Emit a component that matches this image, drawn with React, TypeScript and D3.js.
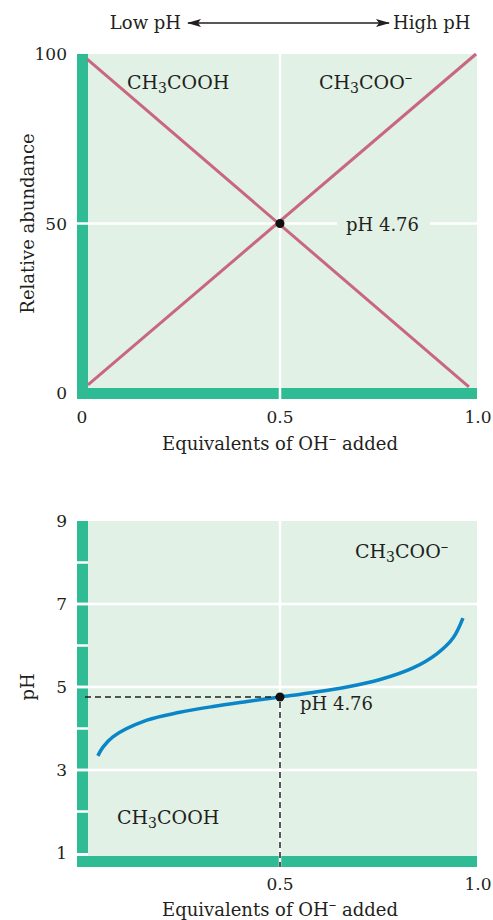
import React, {useEffect, useRef} from 'react';
import * as d3 from 'd3';

// top panel: relative abundance of acid / conjugate base
const abundanceTicks = [0, 50, 100];
const acidLine: [number, number][] = [[0.013, 98.5], [0.977, 1.8]];
const baseLine: [number, number][] = [[0.015, 2.4], [0.995, 100]];

// bottom panel: titration curve
const phTicks = [1, 3, 5, 7, 9];
const phGrid = [3, 5, 7];
const curveEquiv = [0.040, 0.053, 0.078, 0.164, 0.247, 0.331, 0.417, 0.5, 0.583, 0.669, 0.753, 0.836, 0.896, 0.937, 0.962];
const curvePH = [3.34, 3.55, 3.80, 4.20, 4.39, 4.53, 4.65, 4.76, 4.87, 5.00, 5.18, 5.46, 5.80, 6.18, 6.66];

const pKa = 4.76;
const xTicksTop = ['0', '0.5', '1.0'];
const xTicksBottom = ['0.5', '1.0'];

const FONT = 'DejaVu Serif';
const INK = '#231f20';
const PLOT_BG = '#e1f1e6';
const BAR = '#2fbb94';
const PINK = '#c8677f';
const BLUE = '#0a86c8';

const App = () => {
    const ref = useRef<SVGSVGElement>(null);

    useEffect(() => {
        const svg = d3.select(ref.current);
        svg.selectAll('*').remove();

        const x = d3.scaleLinear().domain([0, 1]).range([82, 478]);
        const left = 77, right = 477;

        const text = (t: string, tx: number, ty: number, anchor = 'start', size = 17) =>
            svg.append('text')
                .attr('x', tx).attr('y', ty)
                .attr('text-anchor', anchor)
                .attr('font-family', FONT)
                .attr('font-size', size)
                .attr('fill', INK)
                .text(t);

        // chemical label with subscript 3 and optional superscript minus
        const chem = (tx: number, ty: number, ion: boolean) => {
            const t = svg.append('text')
                .attr('x', tx).attr('y', ty)
                .attr('font-family', FONT)
                .attr('font-size', 19)
                .attr('fill', INK);
            t.append('tspan').text('CH');
            t.append('tspan').attr('font-size', 14).attr('dy', 4).text('3');
            t.append('tspan').attr('dy', -4).text(ion ? 'COO' : 'COOH');
            if (ion) t.append('tspan').attr('font-size', 15).attr('dy', -7).text('–');
        };

        const xTitle = (ty: number) => {
            const t = svg.append('text')
                .attr('x', x(0.5)).attr('y', ty)
                .attr('text-anchor', 'middle')
                .attr('font-family', FONT)
                .attr('font-size', 18)
                .attr('fill', INK);
            t.append('tspan').text('Equivalents of OH');
            t.append('tspan').attr('font-size', 15).attr('dy', -7).text('–');
            t.append('tspan').attr('dy', 7).text(' added');
        };

        // ---------- top arrow ----------
        const defs = svg.append('defs');
        defs.append('marker')
            .attr('id', 'arr')
            .attr('viewBox', '0 0 14 8')
            .attr('refX', 13).attr('refY', 4)
            .attr('markerWidth', 14).attr('markerHeight', 8)
            .attr('markerUnits', 'userSpaceOnUse')
            .attr('orient', 'auto-start-reverse')
            .append('path')
            .attr('d', 'M0,0 L14,4 L0,8 L3,4 Z')
            .attr('fill', INK);
        svg.append('line')
            .attr('x1', 188).attr('x2', 389)
            .attr('y1', 23).attr('y2', 23)
            .attr('stroke', INK).attr('stroke-width', 1.3)
            .attr('marker-start', 'url(#arr)')
            .attr('marker-end', 'url(#arr)');
        text('Low pH', 181, 29, 'end', 18);
        text('High pH', 393, 29, 'start', 18);

        // ---------- top panel ----------
        const y = d3.scaleLinear().domain([0, 100]).range([393, 54]);
        svg.append('rect').attr('x', x(0) + 6).attr('y', y(100))
            .attr('width', right - x(0) - 6).attr('height', y(0) - 5 - y(100)).attr('fill', PLOT_BG);
        svg.append('rect').attr('x', left).attr('y', y(100))
            .attr('width', 11).attr('height', y(0) + 6 - y(100)).attr('fill', BAR);
        svg.append('rect').attr('x', left).attr('y', y(0) - 5)
            .attr('width', right - left).attr('height', 11).attr('fill', BAR);
        svg.append('line').attr('x1', x(0.5)).attr('x2', x(0.5)).attr('y1', y(100)).attr('y2', y(0) + 6)
            .attr('stroke', '#fff').attr('stroke-width', 2.5);
        svg.append('line').attr('x1', left).attr('x2', right).attr('y1', y(50)).attr('y2', y(50))
            .attr('stroke', '#fff').attr('stroke-width', 2.5);

        const line = d3.line<[number, number]>().x(d => x(d[0])).y(d => y(d[1]));
        [acidLine, baseLine].forEach(d => {
            svg.append('path').attr('d', line(d)).attr('fill', 'none')
                .attr('stroke', PINK).attr('stroke-width', 3);
        });
        svg.append('circle').attr('cx', x(0.5)).attr('cy', y(50)).attr('r', 4.5).attr('fill', '#111');

        svg.append('rect').attr('x', 337).attr('y', y(50) - 3).attr('width', 93).attr('height', 6).attr('fill', PLOT_BG);
        text('pH 4.76', 346, y(50) + 7, 'start', 18);
        chem(127, 89, false);
        chem(319, 89, true);

        abundanceTicks.forEach(v => text(String(v), 67, y(v) + 6, 'end', 17));
        xTicksTop.forEach(t => text(t, x(+t), 423, 'middle', 17));
        xTitle(450);
        svg.append('text')
            .attr('transform', `translate(34,${(y(0) + y(100)) / 2}) rotate(-90)`)
            .attr('text-anchor', 'middle')
            .attr('font-family', FONT).attr('font-size', 18).attr('fill', INK)
            .text('Relative abundance');

        // ---------- bottom panel ----------
        const y2 = d3.scaleLinear().domain([1, 9]).range([853, 521]);
        svg.append('rect').attr('x', x(0) + 6).attr('y', y2(9))
            .attr('width', right - x(0) - 6).attr('height', y2(1) + 3 - y2(9)).attr('fill', PLOT_BG);
        svg.append('rect').attr('x', left).attr('y', y2(9))
            .attr('width', 11).attr('height', y2(1) - y2(9)).attr('fill', BAR);
        svg.append('rect').attr('x', left).attr('y', y2(1) + 3)
            .attr('width', right - left).attr('height', 11).attr('fill', BAR);
        d3.range(2, 9).forEach(v => {
            svg.append('line').attr('x1', left).attr('x2', x(0) + 6).attr('y1', y2(v)).attr('y2', y2(v))
                .attr('stroke', '#fff').attr('stroke-width', 2.5);
        });
        phGrid.forEach(v => {
            svg.append('line').attr('x1', left).attr('x2', right).attr('y1', y2(v)).attr('y2', y2(v))
                .attr('stroke', '#fff').attr('stroke-width', 2.5);
        });
        svg.append('line').attr('x1', x(0.5)).attr('x2', x(0.5)).attr('y1', y2(9)).attr('y2', y2(1) + 14)
            .attr('stroke', '#fff').attr('stroke-width', 2.5);

        const curve = d3.line<number>()
            .x((d, i) => x(curveEquiv[i]))
            .y(d => y2(d))
            .curve(d3.curveCatmullRom.alpha(0.5));
        svg.append('path').attr('d', curve(curvePH)).attr('fill', 'none')
            .attr('stroke', BLUE).attr('stroke-width', 3.5).attr('stroke-linecap', 'butt');

        // dashed guide lines to pKa
        svg.append('path')
            .attr('d', `M${left + 8},${y2(pKa)}H${x(0.5)}V${y2(1) + 14}`)
            .attr('fill', 'none').attr('stroke', INK).attr('stroke-width', 1.5)
            .attr('stroke-dasharray', '6,4');
        svg.append('circle').attr('cx', x(0.5)).attr('cy', y2(pKa)).attr('r', 4.5).attr('fill', '#111');
        text('pH 4.76', 300, 710, 'start', 18);
        chem(355, 558, true);
        chem(117, 824, false);

        phTicks.forEach(v => text(String(v), 67, y2(v) + 6, 'end', 17));
        xTicksBottom.forEach(t => text(t, x(+t), 890, 'middle', 17));
        xTitle(916);
        svg.append('text')
            .attr('transform', `translate(34,${y2(5)}) rotate(-90)`)
            .attr('text-anchor', 'middle')
            .attr('font-family', FONT).attr('font-size', 18).attr('fill', INK)
            .text('pH');
    }, []);

    return (
        <svg ref={ref} width={493} height={920}
             style={{position: 'absolute', left: 0, top: 0, background: '#fff'}}/>
    );
};

export default App;
